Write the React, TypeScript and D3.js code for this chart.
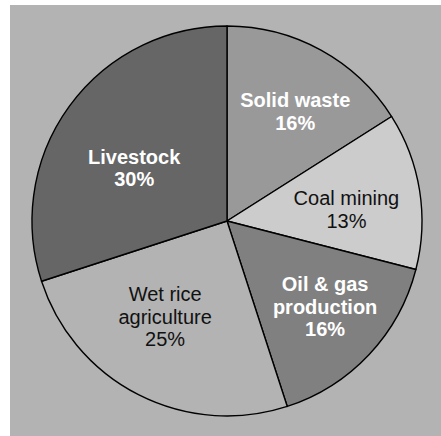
import React from "react";
import * as d3 from "d3";

// Methane emission sources, share of total (%)
const sources = ["Solid waste", "Coal mining", "Oil & gas production", "Wet rice agriculture", "Livestock"];
const shares = [16, 13, 16, 25, 30];
const labelLines = [
  ["Solid waste", "16%"],
  ["Coal mining", "13%"],
  ["Oil & gas", "production", "16%"],
  ["Wet rice", "agriculture", "25%"],
  ["Livestock", "30%"],
];
const fills = ["#999999", "#cccccc", "#808080", "#b3b3b3", "#666666"];
const textFills = ["#ffffff", "#111111", "#ffffff", "#111111", "#ffffff"];
const boldText = [true, false, true, false, true];
// small offsets of each label block from its slice centroid
const labelNudge: [number, number][] = [
  [10, -4],
  [0, 7],
  [10, 3],
  [-7, -12],
  [5, 18],
];

const W = 441;
const H = 436;
const cx = 227;
const cy = 221;
const R = 195;
const FONT = 20;
const LINE_H = 22.5;

export default function App() {
  const data = sources.map((s, i) => ({ name: s, value: shares[i], i }));
  const pie = d3
    .pie<{ name: string; value: number; i: number }>()
    .value((d) => d.value)
    .sort(null);
  const arcs = pie(data);
  const arcGen = d3
    .arc<d3.PieArcDatum<{ name: string; value: number; i: number }>>()
    .innerRadius(0)
    .outerRadius(R);
  const labelArc = d3
    .arc<d3.PieArcDatum<{ name: string; value: number; i: number }>>()
    .innerRadius(R * 0.62)
    .outerRadius(R * 0.62);

  return (
    <svg
      width={W}
      height={H}
      style={{ position: "absolute", left: 0, top: 0, display: "block" }}
    >
      <rect x={10} y={5} width={W - 10} height={H - 5} fill="#b3b3b3" />
      <g transform={`translate(${cx},${cy})`}>
        {arcs.map((a) => (
          <path
            key={a.data.name}
            d={arcGen(a) || ""}
            fill={fills[a.data.i]}
            stroke="#000"
            strokeWidth={1.4}
            strokeLinejoin="round"
          />
        ))}
        {arcs.map((a) => {
          const i = a.data.i;
          const [x0, y0] = labelArc.centroid(a);
          const lines = labelLines[i];
          const x = x0 + labelNudge[i][0];
          const yc = y0 + labelNudge[i][1];
          const firstBaseline = yc - ((lines.length - 1) * LINE_H) / 2 + FONT * 0.36;
          return (
            <text
              key={"t" + a.data.name}
              textAnchor="middle"
              fontFamily="'Liberation Sans', Arial, Helvetica, sans-serif"
              fontSize={FONT}
              fontWeight={boldText[i] ? 700 : 400}
              fill={textFills[i]}
            >
              {lines.map((l, k) => (
                <tspan key={k} x={x} y={firstBaseline + k * LINE_H}>
                  {l}
                </tspan>
              ))}
            </text>
          );
        })}
      </g>
    </svg>
  );
}
